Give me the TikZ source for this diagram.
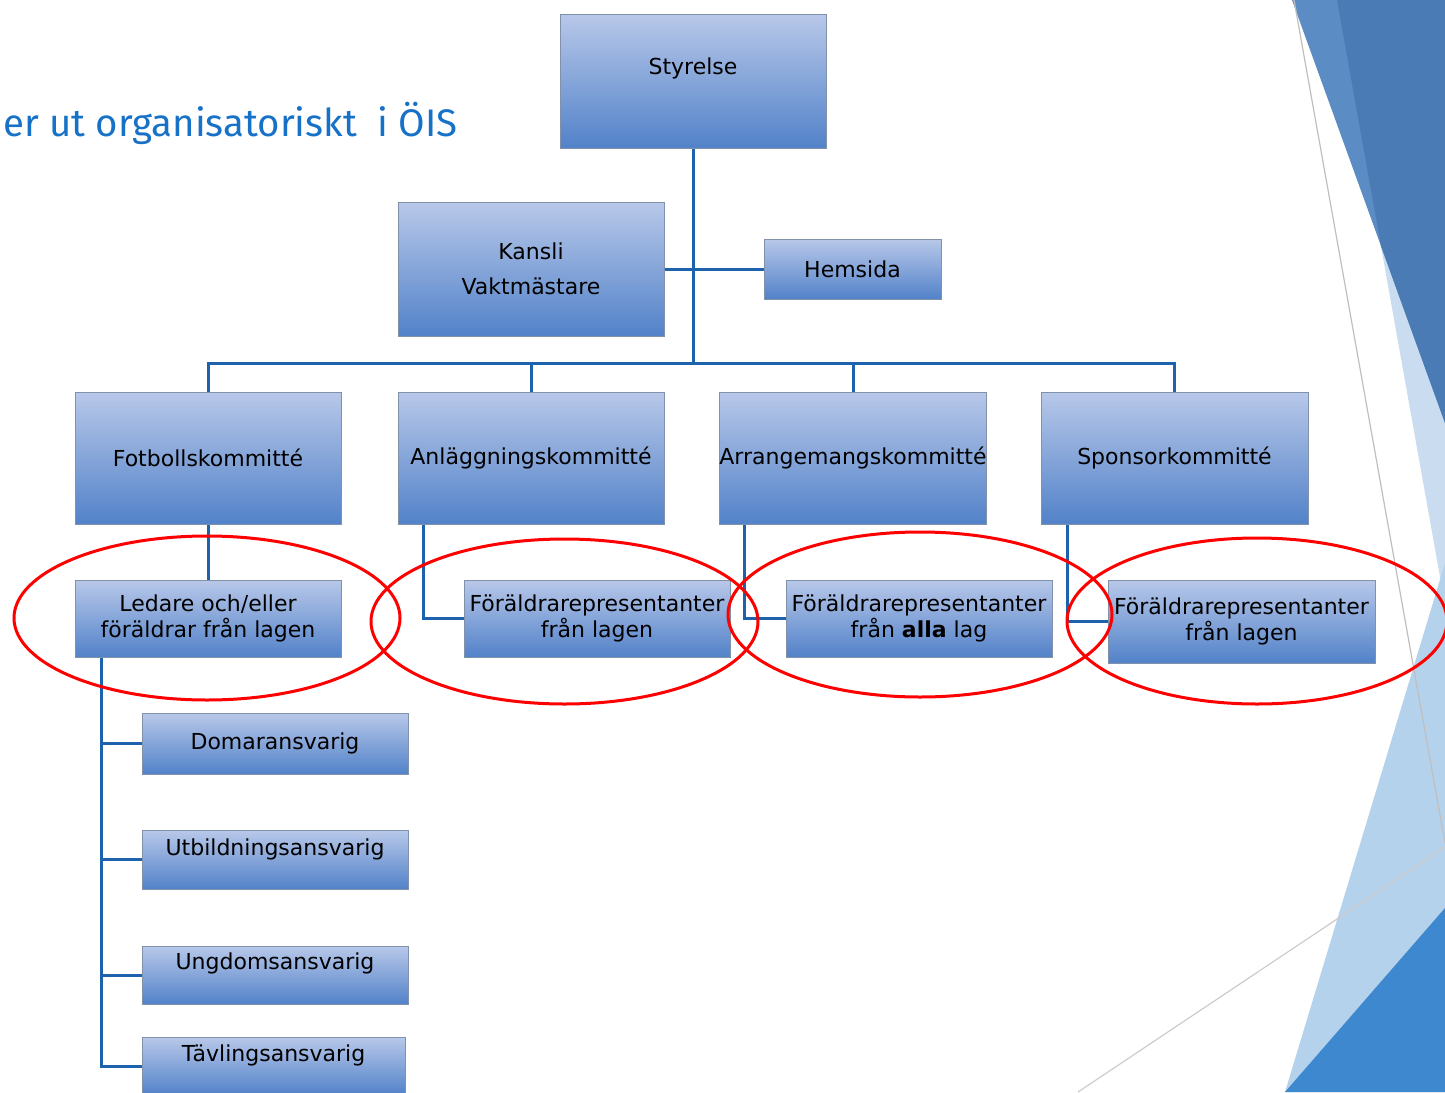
\documentclass[tikz,border=0pt]{standalone}
\usepackage{fontspec}
\setmainfont{DejaVu Sans}
\newfontfamily\titlefont{Fira Sans}
\usetikzlibrary{positioning, calc}

\definecolor{boxtop}{RGB}{184,200,233}
\definecolor{boxbot}{RGB}{82,130,201}
\definecolor{boxrim}{RGB}{130,145,170}
\definecolor{linkblue}{RGB}{28,98,172}
\definecolor{titleblue}{RGB}{23,114,199}
\definecolor{facetdark}{RGB}{74,123,181}
\definecolor{facetmid}{RGB}{91,140,195}
\definecolor{facetpale}{RGB}{201,220,240}
\definecolor{facetlight}{RGB}{181,210,236}
\definecolor{facetstrong}{RGB}{62,136,207}

\begin{document}
\begin{tikzpicture}[x=0.5pt, y=-0.5pt,
    box/.style={rectangle, draw=boxrim, line width=0.5pt, top color=boxtop, bottom color=boxbot,
        align=center, inner sep=0pt, minimum width=133pt, font=\fontsize{11}{13}\selectfont},
    link/.style={draw=linkblue, line width=1.5pt},
    ring/.style={draw=red, line width=1.5pt},
    lift/.style={text depth=#1}
]
\useasboundingbox (0,0) rectangle (1445,1092);
\clip (0,0) rectangle (1445,1092);

% background triangles
\fill[facetpale] (1337,0) -- (1445,0) -- (1445,605) -- cycle;
\fill[facetmid] (1292,0) -- (1445,0) -- (1445,423) -- cycle;
\fill[facetdark] (1337,0) -- (1445,0) -- (1445,423) -- (1381,246) -- cycle;
\fill[facetlight] (1445,563) -- (1445,1092) -- (1285,1092) -- cycle;
\fill[facetstrong] (1445,908) -- (1445,1092) -- (1285,1092) -- cycle;
\draw[gray!50, line width=0.6pt] (1294,0) -- (1445,843);
\draw[gray!40, line width=0.6pt] (1445,847) -- (1078,1092);

\node[anchor=west, inner sep=0pt, text=titleblue, font=\titlefont\fontsize{19.2}{22}\selectfont] (title) at (3,123) {er ut organisatoriskt\ \ i ÖIS};

% top
\node[box, minimum height=67pt, lift=14.4pt] (styr) at (693,81) {Styrelse};
\node[box, minimum height=67pt] (kansli) at (531,269) {Kansli\\[4.5pt]Vaktmästare};
\node[box, minimum width=88.5pt, minimum height=30pt] (hems) at (852.5,269) {Hemsida};

% committees
\node[box, minimum height=66pt] (fot) at (208,458) {Fotbollskommitté};
\node[box, minimum height=66pt] (anl) at (531,458) {Anläggningskommitté};
\node[box, minimum height=66pt] (arr) at (853,458) {Arrangemangskommitté};
\node[box, minimum width=133.5pt, minimum height=66pt] (spon) at (1174.5,458) {Sponsorkommitté};

% team level
\node[box, minimum height=38.5pt] (led) at (208,618.5) {Ledare och/eller\\föräldrar från lagen};
\node[box, minimum height=38.5pt] (anlc) at (597,618.5) {Föräldrarepresentanter\\från lagen};
\node[box, minimum height=38.5pt] (arrc) at (919,618.5) {Föräldrarepresentanter\\från \textbf{alla} lag};
\node[box, minimum width=133.5pt, minimum height=41.5pt] (sponc) at (1241.5,621.5) {Föräldrarepresentanter\\från lagen};

% roles
\node[box, minimum height=30.5pt] (dom) at (275,743.5) {Domaransvarig};
\node[box, minimum height=29.5pt, lift=12.4pt] (utb) at (275,859.5) {Utbildningsansvarig};
\node[box, minimum height=29pt, lift=13.4pt] (ung) at (275,975) {Ungdomsansvarig};
\node[box, minimum width=131.5pt, minimum height=29pt, lift=12.4pt] (tav) at (273.5,1066) {Tävlingsansvarig};

% connectors
\coordinate (bus) at (693,363);
\draw[link] (styr.south) -- (bus);
\draw[link] (kansli.east) -- (hems.west);
\draw[link] (fot.north) |- (bus) -| (spon.north);
\foreach \n in {anl, arr}
    \draw[link] (\n.north) -- (\n.north |- bus);
\draw[link] (fot) -- (led);
\draw[link] ([xshift=13pt]anl.south west) |- (anlc.west);
\draw[link] ([xshift=13pt]arr.south west) |- (arrc.west);
\draw[link] ([xshift=13.5pt]spon.south west) |- (sponc.west);
\coordinate (spine) at ([xshift=13.5pt]led.south west);
\draw[link] (spine) |- (tav.west);
\foreach \n in {dom, utb, ung}
    \draw[link] (spine |- \n.west) -- (\n.west);

% highlights
\draw[ring] (207,618) ellipse [x radius=96.5pt, y radius=41pt];
\draw[ring] (564.5,621.5) ellipse [x radius=96.75pt, y radius=41.25pt];
\draw[ring] (920,614.5) ellipse [x radius=96pt, y radius=41.25pt];
\draw[ring] (1257,621) ellipse [x radius=95pt, y radius=41.5pt];
\end{tikzpicture}
\end{document}
